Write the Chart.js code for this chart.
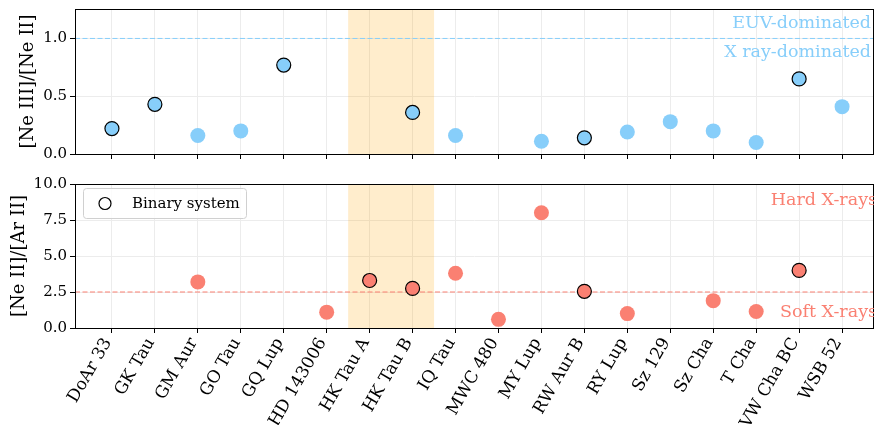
<!DOCTYPE html>
<html>
<head>
<meta charset="utf-8">
<script src="https://cdn.jsdelivr.net/npm/chart.js@4.4.1/dist/chart.umd.min.js"></script>
<style>
  html, body { margin: 0; padding: 0; background: #fff; }
  #wrap { position: relative; width: 874px; height: 425px; overflow: hidden; }
  #top { position: absolute; left: 0; top: 0; }
  #bot { position: absolute; left: 0; top: 170px; }
</style>
</head>
<body>
<div id="wrap">
  <canvas id="top" width="874" height="170"></canvas>
  <canvas id="bot" width="874" height="255"></canvas>
</div>
<script>
// Data
const STARS = ['DoAr 33','GK Tau','GM Aur','GO Tau','GQ Lup','HD 143006','HK Tau A','HK Tau B','IQ Tau',
  'MWC 480','MY Lup','RW Aur B','RY Lup','Sz 129','Sz Cha','T Cha','VW Cha BC','WSB 52'];
const NE3_NE2 = [0.22, 0.43, 0.16, 0.20, 0.77, null, null, 0.36, 0.16, null, 0.11, 0.14, 0.19, 0.28, 0.20, 0.10, 0.65, 0.41];
const NE2_AR2 = [null, null, 3.2, null, null, 1.1, 3.3, 2.75, 3.8, 0.6, 8.0, 2.55, 1.0, null, 1.9, 1.15, 4.0, null];
const BINARY = [1, 1, 0, 0, 1, 0, 1, 1, 0, 0, 0, 1, 0, 0, 0, 0, 1, 0];
const TOP_TICKS = [0, 0.5, 1.0];
const BOT_TICKS = [0, 2.5, 5.0, 7.5, 10.0];
const SHADE = [5.5, 7.5];        // HK Tau A / HK Tau B band
const EUV_LIMIT = 1.0;
const HARD_LIMIT = 2.5;

const X_MIN = -0.86, X_MAX = 17.72;
const FONT = 'DejaVu Serif';
const BLUE = '#87cefa', SALMON = '#fa8072';

function pts(vals, keepBinary) {
  const out = [];
  vals.forEach((v, i) => { if (v != null && !!BINARY[i] === keepBinary) out.push({ x: i, y: v }); });
  return out;
}

function hline(y, color) {
  return {
    type: 'line', data: [{ x: X_MIN, y }, { x: X_MAX, y }], borderColor: color, borderWidth: 1,
    borderDash: [5, 2.5], pointRadius: 0, order: 5
  };
}

// band, frame, annotations
const decor = {
  id: 'decor',
  beforeDatasetsDraw(chart) {
    const { ctx, chartArea: a, scales: { x } } = chart;
    ctx.save();
    ctx.fillStyle = 'rgba(255,165,0,0.2)';
    const x0 = x.getPixelForValue(SHADE[0]), x1 = x.getPixelForValue(SHADE[1]);
    ctx.fillRect(x0, a.top, x1 - x0, a.bottom - a.top);
    ctx.restore();
  },
  afterDraw(chart, args, o) {
    const { ctx, chartArea: a } = chart;
    ctx.save();
    ctx.strokeStyle = '#000'; ctx.lineWidth = 1;
    ctx.strokeRect(Math.round(a.left) + 0.5, Math.round(a.top) + 0.5, Math.round(a.right - a.left), Math.round(a.bottom - a.top));
    ctx.font = `17.5px "${FONT}"`;
    ctx.textAlign = 'right'; ctx.textBaseline = 'middle';
    (o.labels || []).forEach(l => { ctx.fillStyle = l.color; ctx.fillText(l.text, l.x, l.y); });
    if (o.legend) {
      ctx.fillStyle = 'rgba(255,255,255,0.85)';
      ctx.strokeStyle = '#d0d0d0';
      ctx.beginPath(); ctx.roundRect(83.5, 18.5, 163, 30, 3); ctx.fill(); ctx.stroke();
      ctx.strokeStyle = '#000'; ctx.lineWidth = 1.2;
      ctx.beginPath(); ctx.arc(105, 33.5, 6, 0, Math.PI * 2); ctx.stroke();
      ctx.fillStyle = '#000'; ctx.textAlign = 'left';
      ctx.font = `15px "${FONT}"`;
      ctx.fillText('Binary system', 132, 34);
    }
    ctx.restore();
  }
};

function makeOpts({ yMin, yMax, yTicks, title, titlePad, showX, padTop, xHeight, decorOpts }) {
  return {
    responsive: false, animation: false, devicePixelRatio: 1,
    layout: { autoPadding: false, padding: { top: padTop, left: 0, right: 1, bottom: 0 } },
    plugins: { legend: { display: false }, tooltip: { enabled: false }, decor: decorOpts },
    scales: {
      x: {
        type: 'linear', min: X_MIN, max: X_MAX,
        afterBuildTicks: s => { s.ticks = STARS.map((_, i) => ({ value: i })); },
        afterFit: s => { s.height = xHeight; s.paddingLeft = 0; s.paddingRight = 0; },
        grid: { color: '#ececec', tickColor: '#000', tickLength: 5 },
        border: { color: '#000' },
        ticks: {
          display: showX, autoSkip: false, padding: 1.5, labelOffset: -4,
          minRotation: 60, maxRotation: 60,
          color: '#000', font: { family: FONT, size: 17 },
          callback: v => STARS[v] ?? ''
        }
      },
      y: {
        min: yMin, max: yMax,
        afterBuildTicks: s => { s.ticks = yTicks.map(v => ({ value: v })); },
        afterFit: s => { s.width = 75; s.paddingTop = 0; s.paddingBottom = 0; },
        grid: { color: '#ececec', tickColor: '#000', tickLength: 5 },
        border: { color: '#000' },
        ticks: { color: '#000', padding: 3, font: { family: FONT, size: 15 }, callback: v => v.toFixed(1) },
        title: { display: true, text: title, color: '#000', font: { family: FONT, size: 18 }, padding: { top: titlePad, bottom: 0 } }
      }
    }
  };
}

function scatterSets(vals, color) {
  return [
    { type: 'scatter', data: pts(vals, false), backgroundColor: color, borderWidth: 0, pointRadius: 7.5, order: 1 },
    { type: 'scatter', data: pts(vals, true), backgroundColor: color, borderColor: '#000', borderWidth: 1.2, pointRadius: 7, order: 0 }
  ];
}

new Chart(document.getElementById('top'), {
  type: 'scatter',
  data: { datasets: [...scatterSets(NE3_NE2, BLUE), hline(EUV_LIMIT, BLUE)] },
  options: makeOpts({
    yMin: 0, yMax: 1.255, yTicks: TOP_TICKS, title: '[Ne III]/[Ne II]', titlePad: 18,
    showX: false, padTop: 9, xHeight: 16,
    decorOpts: { labels: [
      { text: 'EUV-dominated', x: 871, y: 23, color: BLUE },
      { text: 'X ray-dominated', x: 871, y: 52, color: BLUE }
    ] }
  }),
  plugins: [decor]
});

new Chart(document.getElementById('bot'), {
  type: 'scatter',
  data: { datasets: [...scatterSets(NE2_AR2, SALMON), hline(HARD_LIMIT, SALMON)] },
  options: makeOpts({
    yMin: 0, yMax: 10, yTicks: BOT_TICKS, title: '[Ne II]/[Ar II]', titlePad: 9,
    showX: true, padTop: 14, xHeight: 97,
    decorOpts: { legend: true, labels: [
      { text: 'Hard X-rays', x: 877, y: 30, color: SALMON },
      { text: 'Soft X-rays', x: 877, y: 142, color: SALMON }
    ] }
  }),
  plugins: [decor]
});
</script>
</body>
</html>
